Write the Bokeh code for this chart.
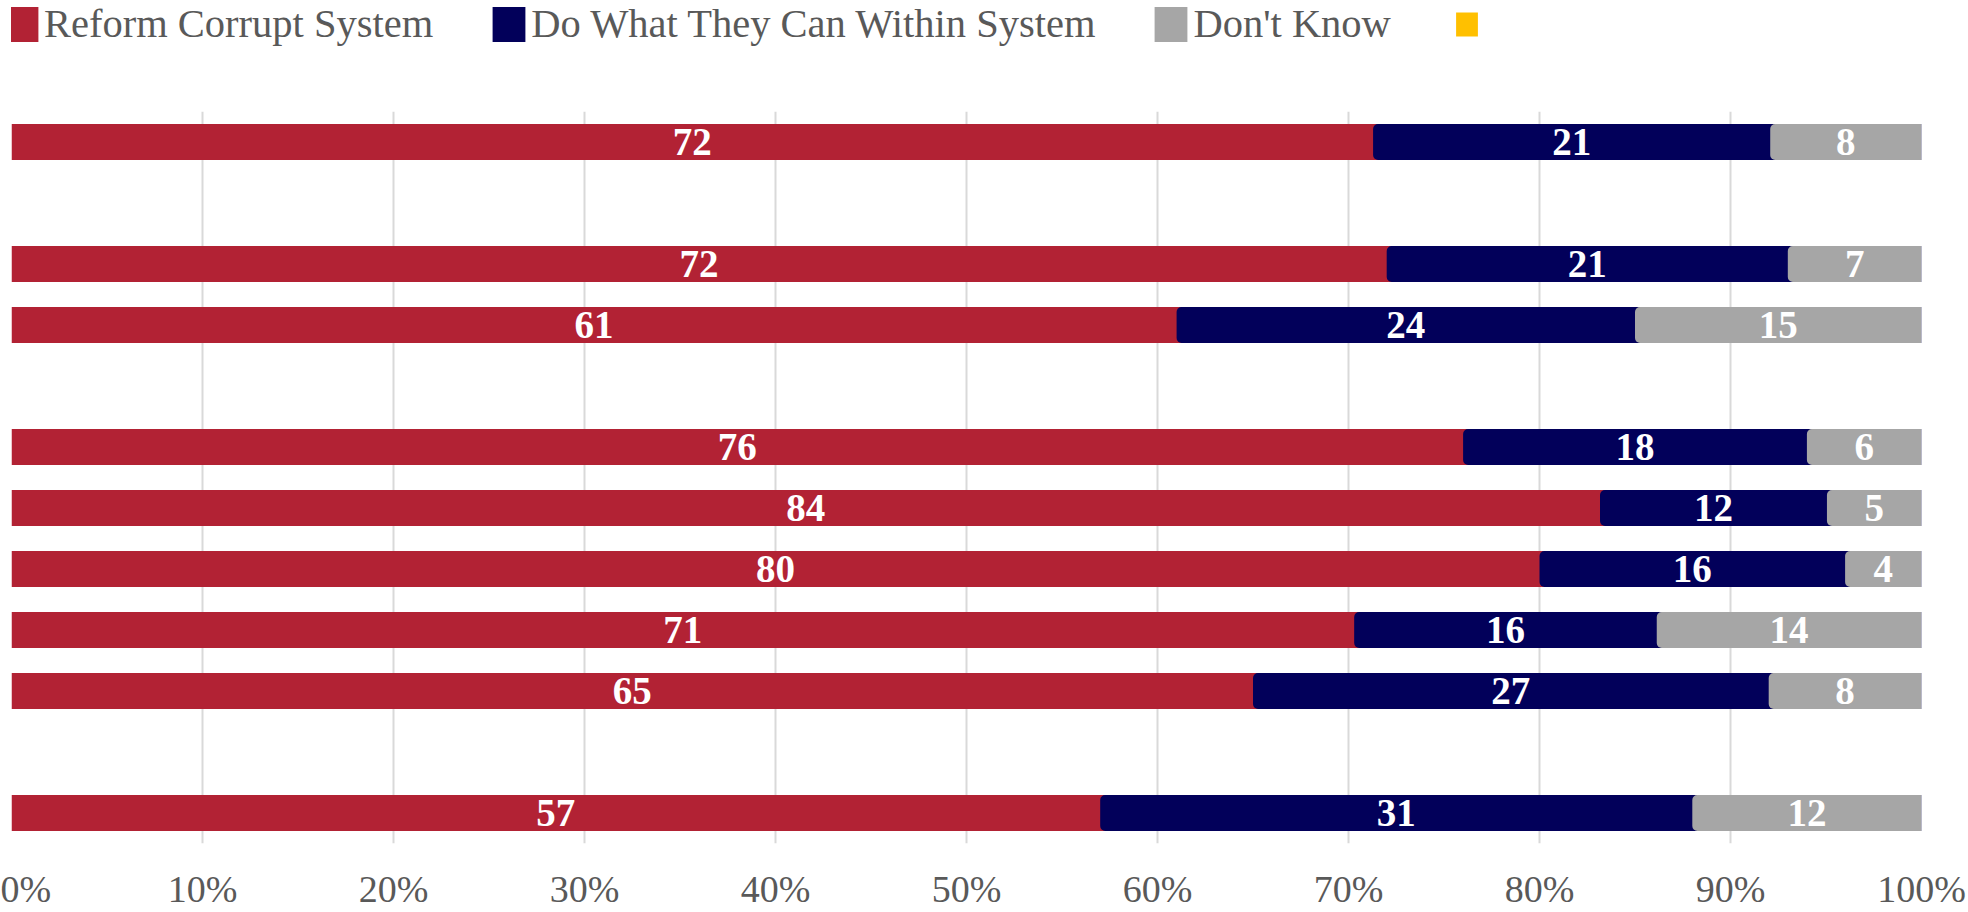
from bokeh.plotting import figure
from bokeh.layouts import column
from bokeh.models import (FactorRange, Range1d, ColumnDataSource, FixedTicker,
                          NumeralTickFormatter, Legend, LegendItem)
from bokeh.core.properties import value
from bokeh.embed import file_html
from bokeh.resources import INLINE

# ---------------- data ----------------
series = ["Reform Corrupt System", "Do What They Can Within System", "Don't Know", " "]
colors = ["#B22234", "#02005A", "#A6A6A6", "#FFC000"]

# 12 row slots, top to bottom (rows 2, 5 and 11 are empty spacer rows)
rows = ["r1", "r2", "r3", "r4", "r5", "r6", "r7", "r8", "r9", "r10", "r11", "r12"]
filled_rows = ["r1", "r3", "r4", "r6", "r7", "r8", "r9", "r10", "r12"]
reform = [72, 72, 61, 76, 84, 80, 71, 65, 57]
within = [21, 21, 24, 18, 12, 16, 16, 27, 31]
dont_know = [8, 7, 15, 6, 5, 4, 14, 8, 12]
x_ticks = [0, 0.1, 0.2, 0.3, 0.4, 0.5, 0.6, 0.7, 0.8, 0.9, 1.0]

# ---------------- derived (normalised to 100%) ----------------
tot = [a + b + c for a, b, c in zip(reform, within, dont_know)]
s1 = [a / t for a, t in zip(reform, tot)]
s2 = [b / t for b, t in zip(within, tot)]
s3 = [c / t for c, t in zip(dont_know, tot)]
c1 = s1
c2 = [a + b for a, b in zip(s1, s2)]
c3 = [a + b + c for a, b, c in zip(s1, s2, s3)]

src = ColumnDataSource(dict(
    y=filled_rows,
    zero=[0] * len(filled_rows),
    c1=c1, c2=c2, c3=c3,
    m1=[a / 2 for a in c1],
    m2=[(a + b) / 2 for a, b in zip(c1, c2)],
    m3=[(a + b) / 2 for a, b in zip(c2, c3)],
    t1=[str(v) for v in reform],
    t2=[str(v) for v in within],
    t3=[str(v) for v in dont_know],
))

LEG_H = 111
BH = 0.59
R = 5

# ---------------- legend strip (hidden proxy renderers) ----------------
pl = figure(width=1968, height=LEG_H, x_range=Range1d(0, 1),
            y_range=FactorRange(factors=rows[::-1], range_padding=0),
            x_axis_location=None, y_axis_location=None,
            output_backend="svg", toolbar_location=None,
            min_border=0, outline_line_color=None)
for g in pl.grid:
    g.visible = False
lr = [
    pl.hbar(y="y", left="zero", right="c1", height=BH, source=src,
            fill_color=colors[0], line_color=None),
    pl.hbar(y="y", left="c1", right="c2", height=BH, source=src,
            fill_color=colors[1], line_color=None),
    pl.hbar(y="y", left="c2", right="c3", height=BH, source=src,
            fill_color=colors[2], line_color=None),
    pl.hbar(y="y", left="zero", right="zero", height=BH, source=src,
            fill_color=colors[3], line_color="white", line_width=11),
]
for r in lr:
    r.visible = False
leg = Legend(items=[LegendItem(label=s, renderers=[r]) for s, r in zip(series, lr)],
             orientation="horizontal", location=(-10, 64),
             glyph_width=41, glyph_height=44, label_standoff=2, spacing=55,
             padding=0, margin=0, border_line_color=None,
             background_fill_alpha=0, inactive_fill_alpha=0,
             label_text_font="Liberation Serif", label_text_font_size="40.5px",
             label_text_color="#595959")
pl.add_layout(leg, "center")

# ---------------- chart ----------------
p = figure(width=1968, height=912 - LEG_H,
           y_range=FactorRange(factors=rows[::-1], range_padding=0),
           x_range=Range1d(0, 1),
           output_backend="svg", toolbar_location=None,
           y_axis_location=None,
           min_border_top=0, min_border_left=11, min_border_right=47,
           min_border_bottom=0)
p.outline_line_color = None
p.background_fill_color = "white"
p.border_fill_color = "white"

p.hbar(y="y", left="zero", right="c2", height=BH, source=src,
       fill_color=colors[0], line_color=None)
p.hbar(y="y", left="c1", right="c3", height=BH, source=src,
       fill_color=colors[1], line_color=None, border_radius=(R, 0, 0, R))
p.hbar(y="y", left="c2", right="c3", height=BH, source=src,
       fill_color=colors[2], line_color=None, border_radius=(R, 0, 0, R))

lab_kw = dict(text_font=value("Liberation Serif"), text_font_style="bold",
              text_font_size="39px", text_color="white",
              text_align="center", text_baseline="middle")
p.text(x="m1", y="y", text="t1", source=src, **lab_kw)
p.text(x="m2", y="y", text="t2", source=src, **lab_kw)
p.text(x="m3", y="y", text="t3", source=src, **lab_kw)

p.xaxis.ticker = FixedTicker(ticks=x_ticks)
p.xaxis.formatter = NumeralTickFormatter(format="0%")
p.xaxis.axis_line_color = None
p.xaxis.major_tick_line_color = None
p.xaxis.minor_tick_line_color = None
p.xaxis.major_tick_out = 0
p.xaxis.major_tick_in = 0
p.xaxis.major_label_standoff = 24
p.xaxis.major_label_text_font = "Liberation Serif"
p.xaxis.major_label_text_font_size = "38px"
p.xaxis.major_label_text_line_height = 0.85
p.xaxis.major_label_text_color = "#595959"
p.xgrid.grid_line_color = "#D9D9D9"
p.xgrid.grid_line_width = 2
p.ygrid.grid_line_color = None

page = column(pl, p, spacing=0)
open("out.html", "w").write(file_html(page, INLINE))
